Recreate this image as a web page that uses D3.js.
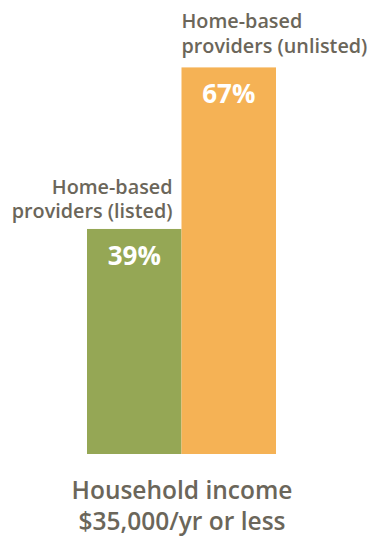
<!DOCTYPE html>
<html>
<head>
<meta charset="utf-8">
<script src="https://cdn.jsdelivr.net/npm/d3@7"></script>
<style>
  body { margin: 0; background: #fff; }
  text { font-family: "Open Sans", "Noto Sans", sans-serif; }
</style>
</head>
<body>
<div id="chart"></div>
<script>
// Chart data
var series = ['Home-based providers (listed)', 'Home-based providers (unlisted)'];
var values = [39, 67];
var labelLines = [['Home-based', 'providers (listed)'], ['Home-based', 'providers (unlisted)']];
var category = ['Household income', '$35,000/yr or less'];
var colors = ['#95a755', '#f5b255'];

var width = 372, height = 537;
var baseY = 454;

var svg = d3.select('#chart')
            .append('svg')
            .attr('width', width)
            .attr('height', height);

var xScale = d3.scaleBand()
               .domain(series)
               .range([87, 276])
               .padding(0);

var yScale = d3.scaleLinear()
               .domain([0, 100])
               .range([baseY, baseY - 577]);

// Bars
svg.selectAll('rect.bar')
   .data(values)
   .enter()
   .append('rect')
   .attr('class', 'bar')
   .attr('x', function (d, i) { return xScale(series[i]); })
   .attr('width', xScale.bandwidth())
   .attr('y', function (d) { return yScale(d); })
   .attr('height', function (d) { return baseY - yScale(d); })
   .attr('fill', function (d, i) { return colors[i]; });

// Value labels inside bars
svg.selectAll('text.value')
   .data(values)
   .enter()
   .append('text')
   .attr('class', 'value')
   .attr('x', function (d, i) { return xScale(series[i]) + xScale.bandwidth() / 2; })
   .attr('y', function (d) { return yScale(d) + 36; })
   .attr('text-anchor', 'middle')
   .attr('fill', '#fff')
   .style('font-weight', 'bold')
   .style('font-size', '26px')
   .text(function (d) { return d + '%'; });

// Series labels above bars (listed one sits a bit closer to its bar)
var labelGap = [35, 39];
labelLines.forEach(function (lines, i) {
    var anchor = i === 0 ? 'end' : 'start';
    var x = i === 0 ? xScale(series[i]) + xScale.bandwidth() - 9 : xScale(series[i]);
    var t = svg.append('text')
               .attr('text-anchor', anchor)
               .attr('fill', '#6b665a')
               .style('font-weight', 600)
               .style('font-size', '19.8px');
    lines.forEach(function (line, j) {
        t.append('tspan')
         .attr('x', x)
         .attr('y', yScale(values[i]) - labelGap[i] + j * 24.5)
         .text(line);
    });
});

// Category label, one text per line
svg.selectAll('text.cat')
   .data(category)
   .enter()
   .append('text')
   .attr('class', 'cat')
   .attr('x', 182)
   .attr('y', function (d, j) { return 499 + j * 31; })
   .attr('text-anchor', 'middle')
   .attr('fill', '#6b665a')
   .style('font-weight', 600)
   .style('font-size', '24.5px')
   .text(function (d) { return d; });
</script>
</body>
</html>
